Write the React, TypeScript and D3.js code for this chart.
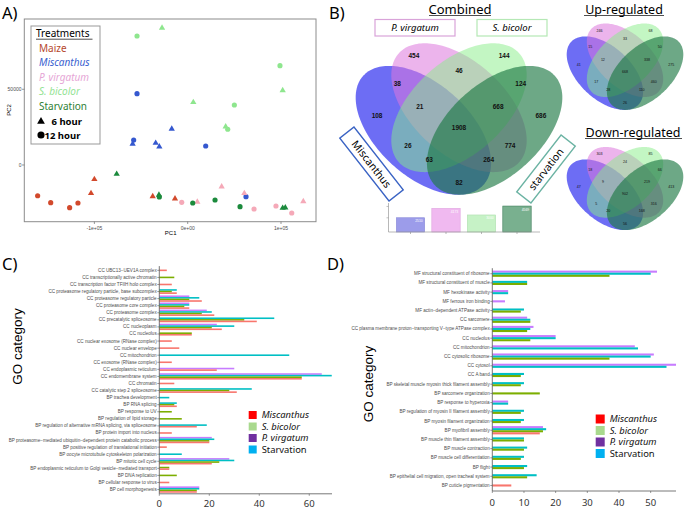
import React from "react";
import * as d3 from "d3";

// ---------------- Panel A data (PCA) ----------------
const maizePC1 = [-160800, -146800, -126500, -117600, -103600, -100000, -37500, -13600];
const maizePC2 = [-20300, -24900, -28200, -25100, -18700, -9450, -20700, -22250];
const maizeHour = [12, 12, 12, 12, 6, 6, 6, 6];

const miscPC1 = [-54300, -57900, 19300, 62500, -59000, -34300, -30400, -17100];
const miscPC2 = [47100, 16500, 12550, -20900, 13900, 14500, 12100, 23800];
const miscHour = [12, 12, 12, 12, 6, 6, 6, 6];

const pvirPC1 = [-6400, 71100, 94600, 111500, 10300, 36400, 60700, 123900];
const pvirPC2 = [-24650, -29050, -27100, -31700, -24400, -14300, -18700, -24000];
const pvirHour = [12, 12, 12, 12, 6, 6, 6, 6];

const sbicPC1 = [-54300, 50000, 42900, 98900, -27500, 6000, 40700, 101800];
const sbicPC2 = [85200, 39600, 23600, 65600, 90500, 41400, 25300, 49300];
const sbicHour = [12, 12, 12, 12, 6, 6, 6, 6];

const starvPC1 = [-76100, -30800, 101800, 104600, -30400, 5400, 29300, 56100];
const starvPC2 = [-5950, -19800, -28400, -28200, -21100, -25100, -23100, -27500];
const starvHour = [6, 6, 6, 6, 12, 12, 12, 12];

const pcaXTicks = [-100000, 0, 100000];
const pcaXTickLabels = ["-1e+05", "0e+00", "1e+05"];
const pcaYTicks = [0, 50000];
const pcaYTickLabels = ["0", "50000"];

const treatmentNames = ["Maize", "Miscanthus", "P. virgatum", "S. bicolor", "Starvation"];

// ---------------- Panel B data (Venn) ----------------
const vennSetNames = ["Miscanthus", "P. virgatum", "S. bicolor", "starvation"];
// regions: M, P, S, St, MP, PS, SSt, MPS, PSSt, MPSSt, MS, PSt, MSSt, MPSt, MSt
const combinedCounts = [108, 454, 144, 686, 38, 46, 124, 21, 668, 1908, 26, 774, 63, 264, 82];
const upCounts = [41, 246, 68, 275, 15, 33, 50, 12, 338, 668, 17, 460, 28, 110, 26];
const downCounts = [47, 303, 85, 413, 18, 24, 66, 9, 219, 902, 5, 316, 20, 168, 56];
const vennTotals = [2510, 4173, 3000, 4569];
// layout of the quad venn in unit square
const regionU = [0.155, 0.31, 0.69, 0.845, 0.24, 0.5, 0.76, 0.335, 0.665, 0.5, 0.285, 0.715, 0.375, 0.625, 0.5];
const regionV = [0.535, 0.8, 0.8, 0.535, 0.675, 0.735, 0.675, 0.575, 0.575, 0.48, 0.4, 0.4, 0.34, 0.34, 0.24];
const ellipseCx = [0.35, 0.5, 0.5, 0.65];
const ellipseCy = [0.47, 0.57, 0.57, 0.47];
const ellipseAngle = [-45, -45, 45, 45];

// ---------------- Panel C data ----------------
const cCategories = [
  "CC UBC13\u2212UEV1A complex",
  "CC transcriptionally active chromatin",
  "CC transcription factor TFIIH holo complex",
  "CC proteasome regulatory particle, base subcomplex",
  "CC proteasome regulatory particle",
  "CC proteasome core complex",
  "CC proteasome complex",
  "CC precatalytic spliceosome",
  "CC nucleoplasm",
  "CC nucleolus",
  "CC nuclear exosome (RNase complex)",
  "CC nuclear envelope",
  "CC mitochondrion",
  "CC exosome (RNase complex)",
  "CC endoplasmic reticulum",
  "CC endomembrane system",
  "CC chromatin",
  "CC catalytic step 2 spliceosome",
  "BP trachea development",
  "BP RNA splicing",
  "BP response to UV",
  "BP regulation of lipid storage",
  "BP regulation of alternative mRNA splicing, via spliceosome",
  "BP protein import into nucleus",
  "BP proteasome\u2212mediated ubiquitin\u2212dependent protein catabolic process",
  "BP positive regulation of translational initiation",
  "BP oocyte microtubule cytoskeleton polarization",
  "BP mitotic cell cycle",
  "BP endoplasmic reticulum to Golgi vesicle\u2212mediated transport",
  "BP DNA replication",
  "BP cellular response to virus",
  "BP cell morphogenesis",
];
const cMiscanthus = [3, null, 5, 7, 17, 12, 22, 39, 25, 13, 5, 8, null, 5, 23, 57, 6, 31, null, 7, null, null, 15, 5, 20, 3, null, 21, 4, null, 4, 15];
const cSbicolor = [null, 6, null, 5, 12, 10, 17, 34, 21, 13, null, null, null, null, null, 57, null, 28, null, 6, 5, 9, null, null, 20, null, null, 24, 4, 7, null, 15];
const cPvirgatum = [null, null, null, null, 12, 12, 19, null, 23, null, null, null, null, null, 30, 65, null, null, null, null, null, null, null, null, 21, null, null, 28, null, null, null, 16];
const cStarvation = [null, null, null, 7, 16, 12, 21, 46, 30, null, null, null, 52, null, null, 69, null, 37, 4, 7, null, null, 19, null, 22, null, 9, 30, null, null, null, 16];
const cTicks = [0, 20, 40, 60];

// ---------------- Panel D data ----------------
const dCategories = [
  "MF structural constituent of ribosome",
  "MF structural constituent of muscle",
  "MF hexokinase activity",
  "MF ferrous iron binding",
  "MF actin\u2212dependent ATPase activity",
  "CC sarcomere",
  "CC plasma membrane proton\u2212transporting V\u2212type ATPase complex",
  "CC nucleolus",
  "CC mitochondrion",
  "CC cytosolic ribosome",
  "CC cytosol",
  "CC A band",
  "BP skeletal muscle myosin thick filament assembly",
  "BP sarcomere organization",
  "BP response to hyperoxia",
  "BP regulation of myosin II filament assembly",
  "BP myosin filament organization",
  "BP myofibril assembly",
  "BP muscle thin filament assembly",
  "BP muscle contraction",
  "BP muscle cell differentiation",
  "BP flight",
  "BP epithelial cell migration, open tracheal system",
  "BP cuticle pigmentation",
];
const dMiscanthus = [null, null, null, null, null, null, null, null, null, null, null, null, null, null, null, null, null, 15, null, null, null, null, null, 6];
const dSbicolor = [37, 11, null, null, 9, 12, 11, 12, null, 37, null, 9, 9, 15, null, 9, 9, 16, 10, 10, 9, 10, 11, null];
const dPvirgatum = [52, null, 5, 4, null, 11, 13, 20, 45, 51, 58, null, null, null, 5, null, null, 16, null, null, null, null, null, null];
const dStarvation = [50, 11, 5, null, 10, 12, 12, 20, 46, 50, 55, 10, 10, null, 5, 10, 10, 17, 10, 11, 10, 11, 14, null];
const dTicks = [0, 10, 20, 30, 40, 50];

const legendNames = ["Miscanthus", "S. bicolor", "P. virgatum", "Starvation"];
const legendItalic = [true, true, true, false];
const legendColors = ["#FF0000", "#A9D98E", "#7030A0", "#00B0F0"];

const SANS = "'Liberation Sans', Arial, sans-serif";
const CAL = "'Noto Sans', 'Open Sans', sans-serif";

// ================= Panel A =================
function PanelA() {
  const x = d3.scaleLinear().domain([-175100, 137500]).range([24.3, 316]);
  const y = d3.scaleLinear().domain([-37450, 96400]).range([221.7, 19]);
  const groups = [
    { pc1: maizePC1, pc2: maizePC2, hour: maizeHour, color: "#D2492C" },
    { pc1: miscPC1, pc2: miscPC2, hour: miscHour, color: "#3558CF" },
    { pc1: pvirPC1, pc2: pvirPC2, hour: pvirHour, color: "#F5A9B8" },
    { pc1: sbicPC1, pc2: sbicPC2, hour: sbicHour, color: "#8EE68E" },
    { pc1: starvPC1, pc2: starvPC2, hour: starvHour, color: "#1B8A3C" },
  ];
  const textColors = ["#B5482C", "#3A5FD0", "#E6A6D6", "#93E393", "#2F7F35"];
  const tri = d3.symbol(d3.symbolTriangle, 17)();
  const circ = d3.symbol(d3.symbolCircle, 21)();
  const triL = d3.symbol(d3.symbolTriangle, 26)();
  const circL = d3.symbol(d3.symbolCircle, 40)();
  return (
    <g>
      <text x={2} y={19} fontFamily={CAL} fontSize={16.5}>A)</text>
      <rect x={24.3} y={19} width={291.7} height={202.7} fill="none" stroke="#8c8c8c" strokeWidth={1} />
      {pcaXTicks.map((t, i) => (
        <g key={"xt" + i}>
          <line x1={x(t)} x2={x(t)} y1={221.7} y2={224} stroke="#555" strokeWidth={0.6} />
          <text x={x(t)} y={229.5} fontSize={5} fill="#4d4d4d" textAnchor="middle" fontFamily={SANS}>{pcaXTickLabels[i]}</text>
        </g>
      ))}
      {pcaYTicks.map((t, i) => (
        <g key={"yt" + i}>
          <line x1={22} x2={24.3} y1={y(t)} y2={y(t)} stroke="#555" strokeWidth={0.6} />
          <text x={21.5} y={y(t) + 1.8} fontSize={5} fill="#4d4d4d" textAnchor="end" fontFamily={SANS}>{pcaYTickLabels[i]}</text>
        </g>
      ))}
      <text x={170.7} y={235} fontSize={6} textAnchor="middle" fontFamily={SANS}>PC1</text>
      <text transform="translate(11,110) rotate(-90)" fontSize={6} textAnchor="middle" fontFamily={SANS}>PC2</text>
      {groups.map((g, gi) =>
        g.pc1.map((v, i) => (
          <path key={gi + "-" + i} d={g.hour[i] === 6 ? tri : circ}
            transform={`translate(${x(v)},${y(g.pc2[i])})`} fill={g.color} />
        ))
      )}
      {/* legend */}
      <rect x={31} y={26} width={69} height={118} fill="#fff" stroke="#999" strokeWidth={1} />
      <text x={36} y={37} fontFamily={CAL} fontSize={10}>Treatments</text>
      <line x1={36} x2={92.5} y1={39.2} y2={39.2} stroke="#222" strokeWidth={0.8} />
      {treatmentNames.map((n, i) => (
        <text key={n} x={39} y={52 + i * 14.4} fontFamily={CAL} fontSize={10}
          fontStyle={i >= 1 && i <= 3 ? "italic" : "normal"} fill={textColors[i]}>{n}</text>
      ))}
      <path d={triL} transform="translate(41,121.5)" fill="#000" />
      <text x={51.5} y={125} fontFamily={CAL} fontSize={9.5} fontWeight="bold">6 hour</text>
      <path d={circL} transform="translate(41,135)" fill="#000" />
      <text x={44.5} y={138.5} fontFamily={CAL} fontSize={9.5} fontWeight="bold">12 hour</text>
    </g>
  );
}

// ================= Panel B =================
const vennFills = ["#2F2FEF", "#DD77DD", "#88EE88", "#1F7A45"];
const vennOpac = [0.7, 0.55, 0.5, 0.65];

function Venn({ cx0, sx, top, sy, counts, fontSize, bold }) {
  const xs = d3.scaleLinear().domain([0, 1]).range([cx0 - 0.5 * sx, cx0 + 0.5 * sx]);
  const ys = d3.scaleLinear().domain([0.855, 0.185]).range([top, top + 0.67 * sy]);
  const line = d3.line().curve(d3.curveLinearClosed);
  const ts = d3.range(0, 2 * Math.PI, Math.PI / 90);
  return (
    <g>
      {ellipseCx.map((cx, i) => {
        const th = (ellipseAngle[i] * Math.PI) / 180;
        const pts = ts.map((t) => {
          const a = 0.35 * Math.cos(t);
          const b = 0.2 * Math.sin(t);
          const ux = cx + a * Math.cos(th) - b * Math.sin(th);
          const uy = ellipseCy[i] + a * Math.sin(th) + b * Math.cos(th);
          return [xs(ux), ys(uy)];
        });
        return <path key={i} d={line(pts)} fill={vennFills[i]} fillOpacity={vennOpac[i]} />;
      })}
      {counts.map((c, i) => (
        <text key={i} x={xs(regionU[i])} y={ys(regionV[i]) + fontSize * 0.35} textAnchor="middle"
          fontFamily={SANS} fontSize={fontSize} fontWeight={bold ? "bold" : "normal"} fill="#111">{c}</text>
      ))}
    </g>
  );
}

function PanelB() {
  const bx = d3.scaleBand().domain(vennSetNames).range([389.2, 538.3]).padding(0.2);
  const by = d3.scaleLinear().domain([0, 5000]).range([232, 203.6]);
  const barFills = ["#9C9CEA", "#F0B9F0", "#C6F2C6", "#79B08F"];
  const barStrokes = ["#8A8AD8", "#E0A6E0", "#B0E0B0", "#3E7F5A"];
  return (
    <g>
      <text x={329} y={19} fontFamily={CAL} fontSize={16.5}>B)</text>
      <text x={460} y={13.5} textAnchor="middle" fontFamily={CAL} fontSize={13}>Combined</text>
      <line x1={429} x2={491} y1={15.5} y2={15.5} stroke="#222" strokeWidth={0.8} />
      <text x={624} y={13.5} textAnchor="middle" fontFamily={CAL} fontSize={12.5}>Up-regulated</text>
      <line x1={584} x2={664} y1={15.5} y2={15.5} stroke="#222" strokeWidth={0.8} />
      <text x={633} y={136.5} textAnchor="middle" fontFamily={CAL} fontSize={12.5}>Down-regulated</text>
      <line x1={585} x2={682} y1={138.5} y2={138.5} stroke="#222" strokeWidth={0.8} />

      <Venn cx0={459} sx={237.5} top={43.3} sy={226} counts={combinedCounts} fontSize={6.5} bold />
      <Venn cx0={625} sx={134} top={23.5} sy={129} counts={upCounts} fontSize={3.6} bold={false} />
      <Venn cx0={625} sx={134} top={147} sy={124} counts={downCounts} fontSize={3.6} bold={false} />

      {/* set boxes */}
      <rect x={375} y={19.5} width={80} height={16.5} fill="#fff" stroke="#D9A3D9" strokeWidth={1.2} />
      <text x={415} y={31} textAnchor="middle" fontFamily={CAL} fontStyle="italic" fontSize={9.5}>{vennSetNames[1]}</text>
      <rect x={477} y={19.5} width={70} height={16.5} fill="#fff" stroke="#B5E8B5" strokeWidth={1.2} />
      <text x={512} y={31} textAnchor="middle" fontFamily={CAL} fontStyle="italic" fontSize={9.5}>{vennSetNames[2]}</text>
      <g transform="translate(371.5,164) rotate(52)">
        <rect x={-40} y={-9} width={80} height={18} fill="#fff" stroke="#3A63C4" strokeWidth={1.4} />
        <text x={0} y={3.8} textAnchor="middle" fontFamily={CAL} fontSize={10.5}>{vennSetNames[0]}</text>
      </g>
      <g transform="translate(546,169) rotate(-52)">
        <rect x={-36} y={-9} width={72} height={18} fill="#fff" stroke="#6BB3A3" strokeWidth={1.4} />
        <text x={0} y={3.8} textAnchor="middle" fontFamily={CAL} fontSize={10.5}>{vennSetNames[3]}</text>
      </g>

      {/* totals bar chart */}
      {vennSetNames.map((n, i) => (
        <g key={n}>
          <rect x={bx(n)} y={by(vennTotals[i])} width={bx.bandwidth()} height={by(0) - by(vennTotals[i])}
            fill={barFills[i]} stroke={barStrokes[i]} strokeWidth={0.6} />
          <text x={bx(n) + bx.bandwidth() - 2} y={by(vennTotals[i]) + 4.5} textAnchor="end" fontFamily={SANS}
            fontSize={3.4} fill="#fff">{vennTotals[i]}</text>
          <line x1={bx(n) + bx.bandwidth() / 2} x2={bx(n) + bx.bandwidth() / 2} y1={232} y2={234} stroke="#888" strokeWidth={0.6} />
        </g>
      ))}
      <line x1={388.5} x2={388.5} y1={203} y2={232} stroke="#999" strokeWidth={0.7} />
      <line x1={388.5} x2={540} y1={232} y2={232} stroke="#999" strokeWidth={0.7} />
      {[2500, 4500].map((t) => (
        <line key={t} x1={386.5} x2={388.5} y1={by(t)} y2={by(t)} stroke="#999" strokeWidth={0.6} />
      ))}
    </g>
  );
}

// ================= Panels C & D =================
function GoPanel({ letter, letterX, cats, misc, sbic, pvir, starv, xMax, x0, x1, y0, y1, ticks, barH,
  labelX, labelY, legX, legY, legStep, legSize, legFont, tickY }) {
  const x = d3.scaleLinear().domain([0, xMax]).range([x0, x1]);
  const y = d3.scalePoint().domain(cats).range([y0, y1]).padding(0.6);
  const series = [
    { key: "pvir", vals: pvir, color: "#C77CFF" },
    { key: "starv", vals: starv, color: "#00BFC4" },
    { key: "sbic", vals: sbic, color: "#7CAE00" },
    { key: "misc", vals: misc, color: "#F8766D" },
  ];
  return (
    <g>
      <text x={letterX} y={270} fontFamily={CAL} fontSize={16.5}>{letter}</text>
      <text transform={`translate(${labelX},${labelY}) rotate(-90)`} textAnchor="middle" fontFamily={SANS} fontSize={13.5}>GO category</text>
      {cats.map((c, i) => {
        const present = series.filter((s) => s.vals[i] != null);
        const yc = y(c);
        const inner = d3.scaleBand().domain(present.map((s) => s.key))
          .range([yc - (present.length * barH) / 2, yc + (present.length * barH) / 2]);
        return (
          <g key={c}>
            <line x1={x0 - 2} x2={x0} y1={yc} y2={yc} stroke="#333" strokeWidth={0.5} />
            <text x={x0 - 2.6} y={yc + 1.5} textAnchor="end" fontFamily={SANS} fontSize={4.6} fill="#4d4d4d">{c}</text>
            {present.map((s) => (
              <rect key={s.key} x={x0} y={inner(s.key)} width={x(s.vals[i]) - x0} height={inner.bandwidth()} fill={s.color} />
            ))}
          </g>
        );
      })}
      <line x1={x0} x2={x0} y1={y0} y2={y1} stroke="#555" strokeWidth={0.8} />
      <line x1={x0} x2={x1} y1={y1} y2={y1} stroke="#555" strokeWidth={0.8} />
      {ticks.map((t) => (
        <g key={t}>
          <line x1={x(t)} x2={x(t)} y1={y1} y2={y1 + 2} stroke="#555" strokeWidth={0.6} />
          <text x={x(t)} y={tickY} textAnchor="middle" fontFamily={CAL} fontSize={9.5} fill="#333">{t}</text>
        </g>
      ))}
      {legendNames.map((n, i) => (
        <g key={n}>
          <rect x={legX} y={legY + i * legStep - legSize / 2} width={legSize} height={legSize} fill={legendColors[i]} />
          <text x={legX + legSize + 5} y={legY + i * legStep + 3.4} fontFamily={CAL} fontSize={legFont}
            fontStyle={legendItalic[i] ? "italic" : "normal"} fill="#111">{n}</text>
        </g>
      ))}
    </g>
  );
}

export default function App() {
  return (
    <svg width={685} height={508} style={{ position: "absolute", left: 0, top: 0, background: "#fff" }}>
      <rect x={0} y={0} width={685} height={508} fill="#fff" />
      <PanelA />
      <PanelB />
      <GoPanel letter="C)" letterX={2} cats={cCategories} misc={cMiscanthus} sbic={cSbicolor} pvir={cPvirgatum}
        starv={cStarvation} xMax={69.1} x0={159.3} x1={332} y0={266.1} y1={493.8} ticks={cTicks} barH={1.59}
        labelX={22} labelY={346.5} legX={248.7} legY={415} legStep={11.5} legSize={8} legFont={9.4} tickY={506.5} />
      <GoPanel letter="D)" letterX={327} cats={dCategories} misc={dMiscanthus} sbic={dSbicolor} pvir={dPvirgatum}
        starv={dStarvation} xMax={58} x0={492.3} x1={676} y0={268.2} y1={491} ticks={dTicks} barH={2.07}
        labelX={372.5} labelY={384} legX={595.7} legY={419} legStep={11.5} legSize={9} legFont={9.4} tickY={505.5} />
    </svg>
  );
}
